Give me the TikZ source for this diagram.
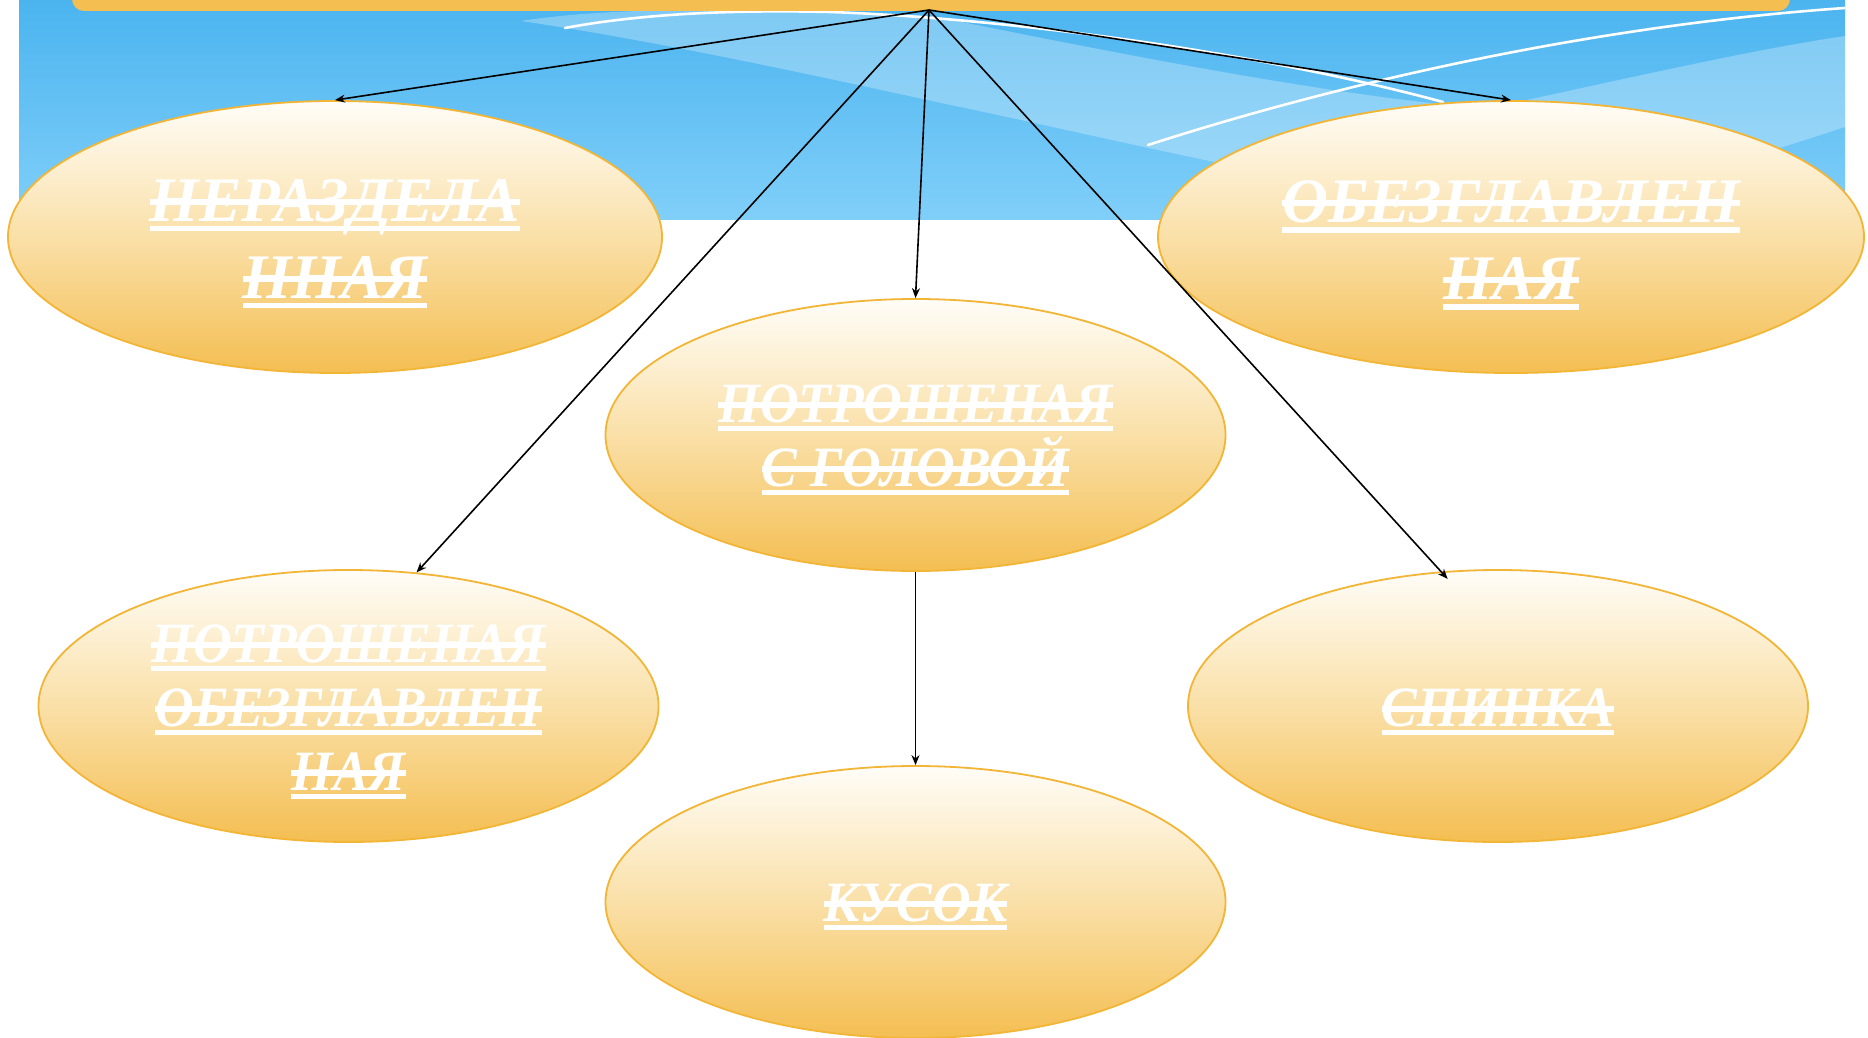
\documentclass[tikz,border=0pt]{standalone}
\usepackage{fontspec}
\setmainfont{Liberation Serif}
\newfontfamily\condfont[FakeStretch=0.94]{Liberation Serif}
\usetikzlibrary{arrows.meta,shapes.geometric}
\definecolor{bltop}{HTML}{4BB4EF}
\definecolor{blbot}{HTML}{80CFF9}
\definecolor{orbar}{HTML}{F4BE50}
\definecolor{elltop}{HTML}{FFFDF8}
\definecolor{ellmid}{HTML}{FAE0A8}
\definecolor{ellbot}{HTML}{F4BE52}
\definecolor{ellline}{HTML}{F2B535}
\newcommand\ust[1]{\setbox0\hbox{#1}\rlap{\rule[-0.157em]{\wd0}{0.09em}}\rlap{\rule[0.26em]{\wd0}{0.09em}}\box0}
\tikzset{
  ell/.style={ellipse, draw=ellline, line width=1.8pt, top color=elltop, bottom color=ellbot, middle color=ellmid,
    inner sep=0pt, minimum width=620pt, minimum height=272pt},
  txt/.style={text=white, align=center, inner sep=0pt},
  big/.style={font=\fontsize{63.5}{77}\bfseries\itshape\selectfont},
  small/.style={font=\condfont\fontsize{57}{64}\bfseries\itshape\selectfont},
  arr/.style={-{Stealth[length=10pt,width=8pt]}, line width=1.6pt, black},
  wline/.style={white, line width=2.6pt, line cap=round}
}
\begin{document}
\begin{tikzpicture}[x=1pt,y=-1pt]
\useasboundingbox (0,0) rectangle (1868,1038);
\fill[white] (0,0) rectangle (1868,1038);
% banner
\shade[top color=bltop, bottom color=blbot] (19,0) rectangle (1845,219);
\begin{scope}
\clip (19,0) rectangle (1845,219);
\fill[white, opacity=0.28] (521,21) .. controls (620,5) and (800,8) .. (932,16)
  .. controls (1100,50) and (1350,100) .. (1490,108)
  .. controls (1620,80) and (1750,50) .. (1845,36) -- (1845,127)
  .. controls (1700,175) and (1550,215) .. (1450,205)
  .. controls (1300,185) and (1050,125) .. (941,103)
  .. controls (800,72) and (650,40) .. (521,21) -- cycle;
\draw[wline] (565,28) .. controls (650,12) and (750,10) .. (830,12) .. controls (1000,18) and (1250,50) .. (1443,102);
\draw[wline] (1148,145) .. controls (1350,80) and (1600,25) .. (1845,8);
\end{scope}
\begin{scope}
\clip (0,0) rectangle (1868,1038);
\fill[orbar, rounded corners=12pt] (72,-30) rectangle (1790,11);
\end{scope}
% nodes
\coordinate (apex) at (929,10);
\node[ell, minimum width=654pt] (e1) at (335,237) {};
\node[ell, minimum width=706pt] (e2) at (1511,237) {};
\node[ell] (e3) at (915.5,435) {};
\node[ell] (e4) at (348.5,706) {};
\node[ell] (e5) at (1498,706) {};
\node[ell] (e6) at (915.5,902) {};
\node[txt, big] (t1) at ([yshift=-7pt]e1.center) {\ust{НЕРАЗДЕЛА}\\\ust{ННАЯ}};
\node[txt, big] (t2) at ([yshift=-8pt]e2.center) {\ust{ОБЕЗГЛАВЛЕН}\\\ust{НАЯ}};
\node[txt, small] (t3) at ([yshift=-5pt]e3.center) {\ust{ПОТРОШЕНАЯ}\\\ust{С ГОЛОВОЙ}};
\node[txt, small] (t4) at ([yshift=-6pt]e4.center) {\ust{ПОТРОШЕНАЯ}\\\ust{ОБЕЗГЛАВЛЕН}\\\ust{НАЯ}};
\node[txt, small] (t5) at ([yshift=-6pt]e5.center) {\ust{СПИНКА}};
\node[txt, small] (t6) at ([yshift=-5pt]e6.center) {\ust{КУСОК}};
% arrows
\draw[arr] (apex) -- (e1.north);
\draw[arr] (apex) -- (e2.north);
\draw[arr] (apex) -- (e3.north);
\draw[arr] (apex) -- (e4.63);
\draw[arr, shorten >=-10pt] (apex) -- (e5.113);
\draw[arr] (e3.south) -- (e6.north);
\end{tikzpicture}
\end{document}
